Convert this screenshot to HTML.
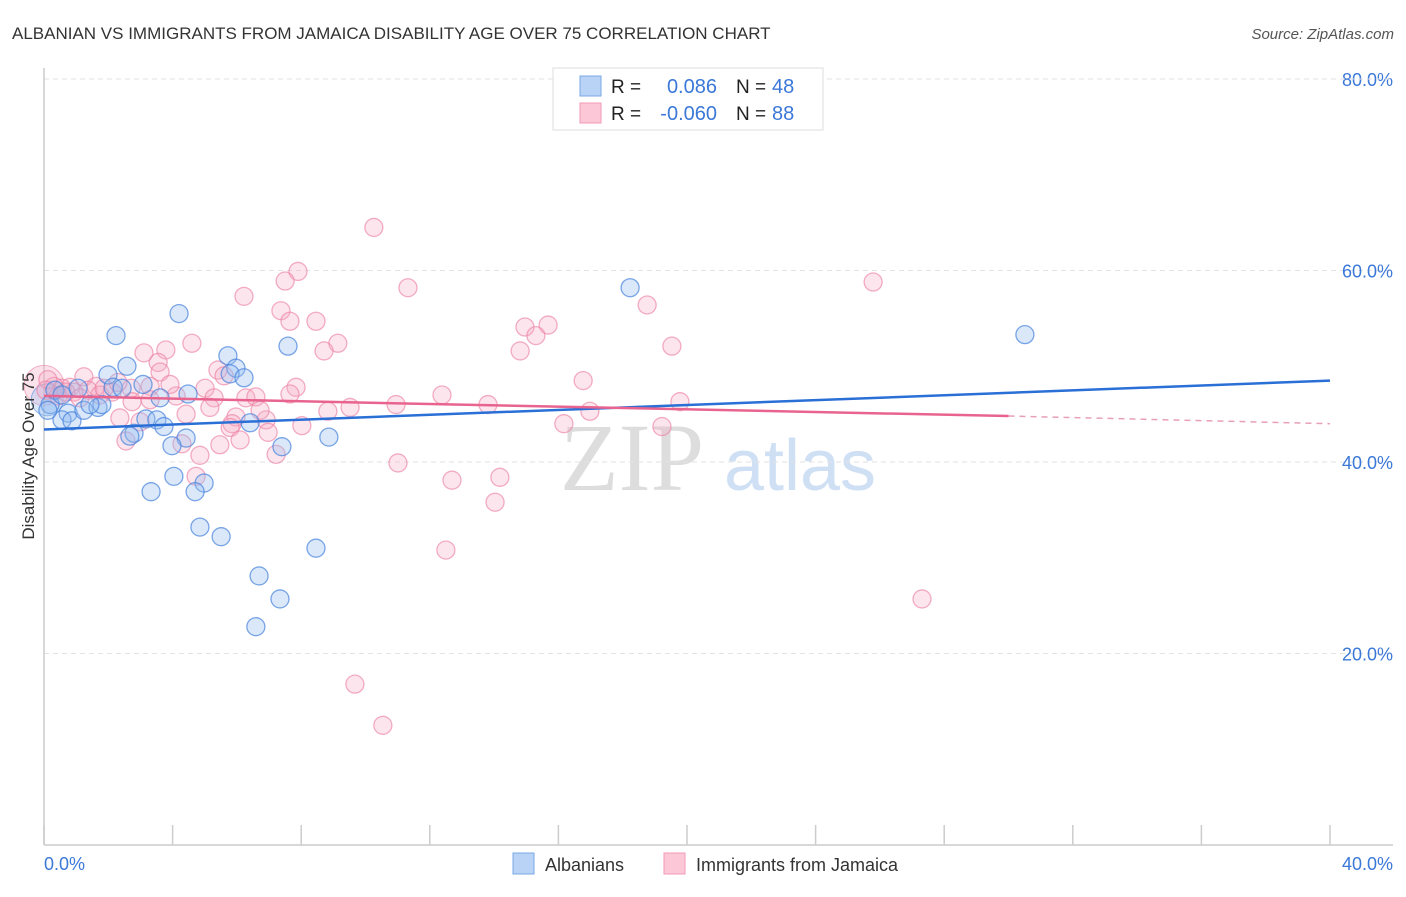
<!DOCTYPE html>
<html><head><meta charset="utf-8"><style>
body{margin:0;background:#fff;font-family:"Liberation Sans",sans-serif}
</style></head><body>
<svg width="1406" height="892" xmlns="http://www.w3.org/2000/svg" id="svg">
<text x="12" y="39" font-size="17" fill="#333">ALBANIAN VS IMMIGRANTS FROM JAMAICA DISABILITY AGE OVER 75 CORRELATION CHART</text>
<text x="1394" y="39" font-size="15" fill="#555" text-anchor="end" font-style="italic">Source: ZipAtlas.com</text>
<g>
<text x="632" y="490" font-size="96" fill="#ddd" font-family="Liberation Serif" text-anchor="middle">ZIP</text>
<text x="800" y="490" font-size="72" fill="#cfe0f5" text-anchor="middle">atlas</text>
</g>
<g id="grid"></g>
<g id="marks"></g>
<g id="lines"></g>
<text transform="translate(34,456) rotate(-90)" font-size="17" fill="#333" text-anchor="middle">Disability Age Over 75</text>
<text x="44" y="870" font-size="18" fill="#3b78d8">0.0%</text>
<text x="1393" y="870" font-size="18" fill="#3b78d8" text-anchor="end">40.0%</text>
<g>
<rect x="553" y="68" width="270" height="62" fill="#fff" stroke="#ddd"/>
<rect x="580" y="76" width="21" height="20" fill="#b8d3f5" stroke="#7aa7e6"/>
<rect x="580" y="103" width="21" height="20" fill="#fcc8d8" stroke="#f09ab5"/>
<text x="611" y="93" font-size="19" fill="#222">R =</text>
<text x="717" y="93" font-size="20" fill="#3b78d8" text-anchor="end">0.086</text>
<text x="736" y="93" font-size="19" fill="#222">N =</text>
<text x="772" y="93" font-size="20" fill="#3b78d8">48</text>
<text x="611" y="120" font-size="19" fill="#222">R =</text>
<text x="717" y="120" font-size="20" fill="#3b78d8" text-anchor="end">-0.060</text>
<text x="736" y="120" font-size="19" fill="#222">N =</text>
<text x="772" y="120" font-size="20" fill="#3b78d8">88</text>
</g>
<g>
<rect x="513" y="853" width="21" height="21" fill="#b8d3f5" stroke="#7aa7e6"/>
<text x="545" y="871" font-size="18" fill="#333">Albanians</text>
<rect x="664" y="853" width="21" height="21" fill="#fcc8d8" stroke="#f09ab5"/>
<text x="696" y="871" font-size="18" fill="#333">Immigrants from Jamaica</text>
</g>
</svg>
<script>
const yTicks=[20,40,60,80];
const yTickLabels=["20.0%","40.0%","60.0%","80.0%"];
const xTicks=[0,4,8,12,16,20,24,28,32,36,40];
const blueX=[2.24,4.2,2.58,1.99,3.08,2.15,2.43,3.61,4.48,5.72,5.97,5.79,6.22,7.59,18.23,30.51,0.75,0.56,0.87,1.24,1.68,1.80,3.17,3.51,3.73,2.80,2.67,4.42,3.98,6.41,7.40,8.86,3.33,4.04,4.98,4.70,4.85,5.51,6.69,7.34,6.59,8.46,0.19,0.34,0.12,1.43,1.06,0.56];
const blueY=[53.2,55.5,50.0,49.1,48.1,47.8,47.7,46.7,47.1,51.1,49.8,49.2,48.8,52.1,58.2,53.3,45.1,44.4,44.3,45.4,45.7,46.0,44.5,44.4,43.7,43.0,42.7,42.5,41.7,44.1,41.6,42.6,36.9,38.5,37.8,36.9,33.2,32.2,28.1,25.7,22.8,31.0,46.0,47.5,45.4,46.0,47.7,47.0];
const pinkX=[10.26,7.90,7.50,6.22,11.32,7.37,7.65,8.46,18.76,25.79,14.96,15.68,15.30,14.81,19.53,9.14,8.71,4.60,3.79,3.11,3.55,3.61,5.41,5.60,16.77,7.84,5.01,4.11,2.71,3.30,1.24,1.62,2.12,0.81,0.56,0.31,0.12,0.44,2.74,5.29,5.16,6.28,6.59,12.38,10.95,9.52,8.83,13.81,16.98,19.78,4.42,2.36,5.97,6.91,5.85,8.02,5.79,6.97,4.29,2.55,4.85,7.22,4.73,11.01,12.69,14.18,14.03,12.50,16.17,19.22,27.31,9.67,10.54,1.37,1.74,0.93,2.99,1.87,2.30,3.92,6.10,7.65,0.06,0.68,1.12,3.30,5.47,6.72];
const pinkY=[64.5,59.9,58.9,57.3,58.2,55.8,54.7,54.7,56.4,58.8,54.1,54.3,53.2,51.6,52.1,52.4,51.6,52.4,51.7,51.4,50.4,49.4,49.6,49.0,48.5,47.8,47.7,46.9,47.7,47.9,48.9,47.9,47.3,47.8,47.7,47.9,48.6,46.9,46.3,46.7,45.7,46.7,46.8,47.0,46.0,45.7,45.3,46.0,45.3,46.3,45.0,44.6,44.7,44.4,44.0,43.8,43.6,43.1,41.9,42.2,40.7,40.8,38.5,39.9,38.1,38.4,35.8,30.8,44.0,43.7,25.7,16.8,12.5,47.5,47.0,47.3,44.2,47.7,48.3,48.1,42.3,47.1,47.5,47.3,46.7,46.5,41.8,45.4];
const blueTrendX=[0,40];
const blueTrendY=[43.4,48.5];
const pinkTrendX=[0,30,40];
const pinkTrendY=[46.9,44.8,44.0];
const NS="http://www.w3.org/2000/svg";
const X=v=>44+v*32.15, Y=v=>845-v*9.575;
function mk(t,a,p){const e=document.createElementNS(NS,t);for(const k in a)e.setAttribute(k,a[k]);p.appendChild(e);return e;}
const gridG=document.getElementById('grid'),marksG=document.getElementById('marks'),linesG=document.getElementById('lines');
yTicks.forEach((v,i)=>{
 const l=mk('line',{x1:44,x2:1393,y1:Y(v),y2:Y(v),stroke:'#e2e2e2','stroke-dasharray':'5,4'},gridG);
 
 
 const t=mk('text',{x:1393,y:Y(v)+7,'font-size':18,fill:'#3b78d8','text-anchor':'end'},gridG);
 t.textContent=yTickLabels[i];
 
 
});
const topGrid=mk('line',{x1:44,x2:1393,y1:79,y2:79,stroke:'#e2e2e2','stroke-dasharray':'5,4'},gridG);


const yAxisLine=mk('line',{x1:44,x2:44,y1:68,y2:845,stroke:'#ccc','stroke-width':1.5},gridG);


const xAxisLine=mk('line',{x1:44,x2:1393,y1:845,y2:845,stroke:'#ccc','stroke-width':1.5},gridG);


xTicks.forEach(v=>{
 const l=mk('line',{x1:X(v),x2:X(v),y1:825,y2:845,stroke:'#ccc','stroke-width':1.5},gridG);
 
 
});
const bigP=mk('circle',{cx:X(0),cy:Y(48),r:20,fill:'rgba(246,160,188,0.3)',stroke:'rgba(236,130,165,0.6)'},marksG);


const bigB=mk('circle',{cx:X(0.1),cy:Y(46.5),r:16,fill:'rgba(150,190,240,0.35)',stroke:'rgba(80,140,220,0.6)'},marksG);


pinkX.forEach((v,i)=>{
 const c=mk('circle',{cx:X(v),cy:Y(pinkY[i]),r:9,fill:'rgba(246,170,195,0.3)',stroke:'rgba(236,130,165,0.65)','stroke-width':1.3},marksG);
 
 
});
blueX.forEach((v,i)=>{
 const c=mk('circle',{cx:X(v),cy:Y(blueY[i]),r:9,fill:'rgba(150,190,240,0.35)',stroke:'rgba(70,130,220,0.7)','stroke-width':1.3},marksG);
 
 
});
const bl=mk('line',{x1:X(blueTrendX[0]),y1:Y(blueTrendY[0]),x2:X(blueTrendX[1]),y2:Y(blueTrendY[1]),stroke:'#2a6fd6','stroke-width':2.5},linesG);


const pl=mk('line',{x1:X(pinkTrendX[0]),y1:Y(pinkTrendY[0]),x2:X(pinkTrendX[1]),y2:Y(pinkTrendY[1]),stroke:'#e8648f','stroke-width':2.5},linesG);


const pd=mk('line',{x1:X(pinkTrendX[1]),y1:Y(pinkTrendY[1]),x2:X(pinkTrendX[2]),y2:Y(pinkTrendY[2]),stroke:'#e8a0b8','stroke-width':1.5,'stroke-dasharray':'6,5'},linesG);


</script>
</body></html>
